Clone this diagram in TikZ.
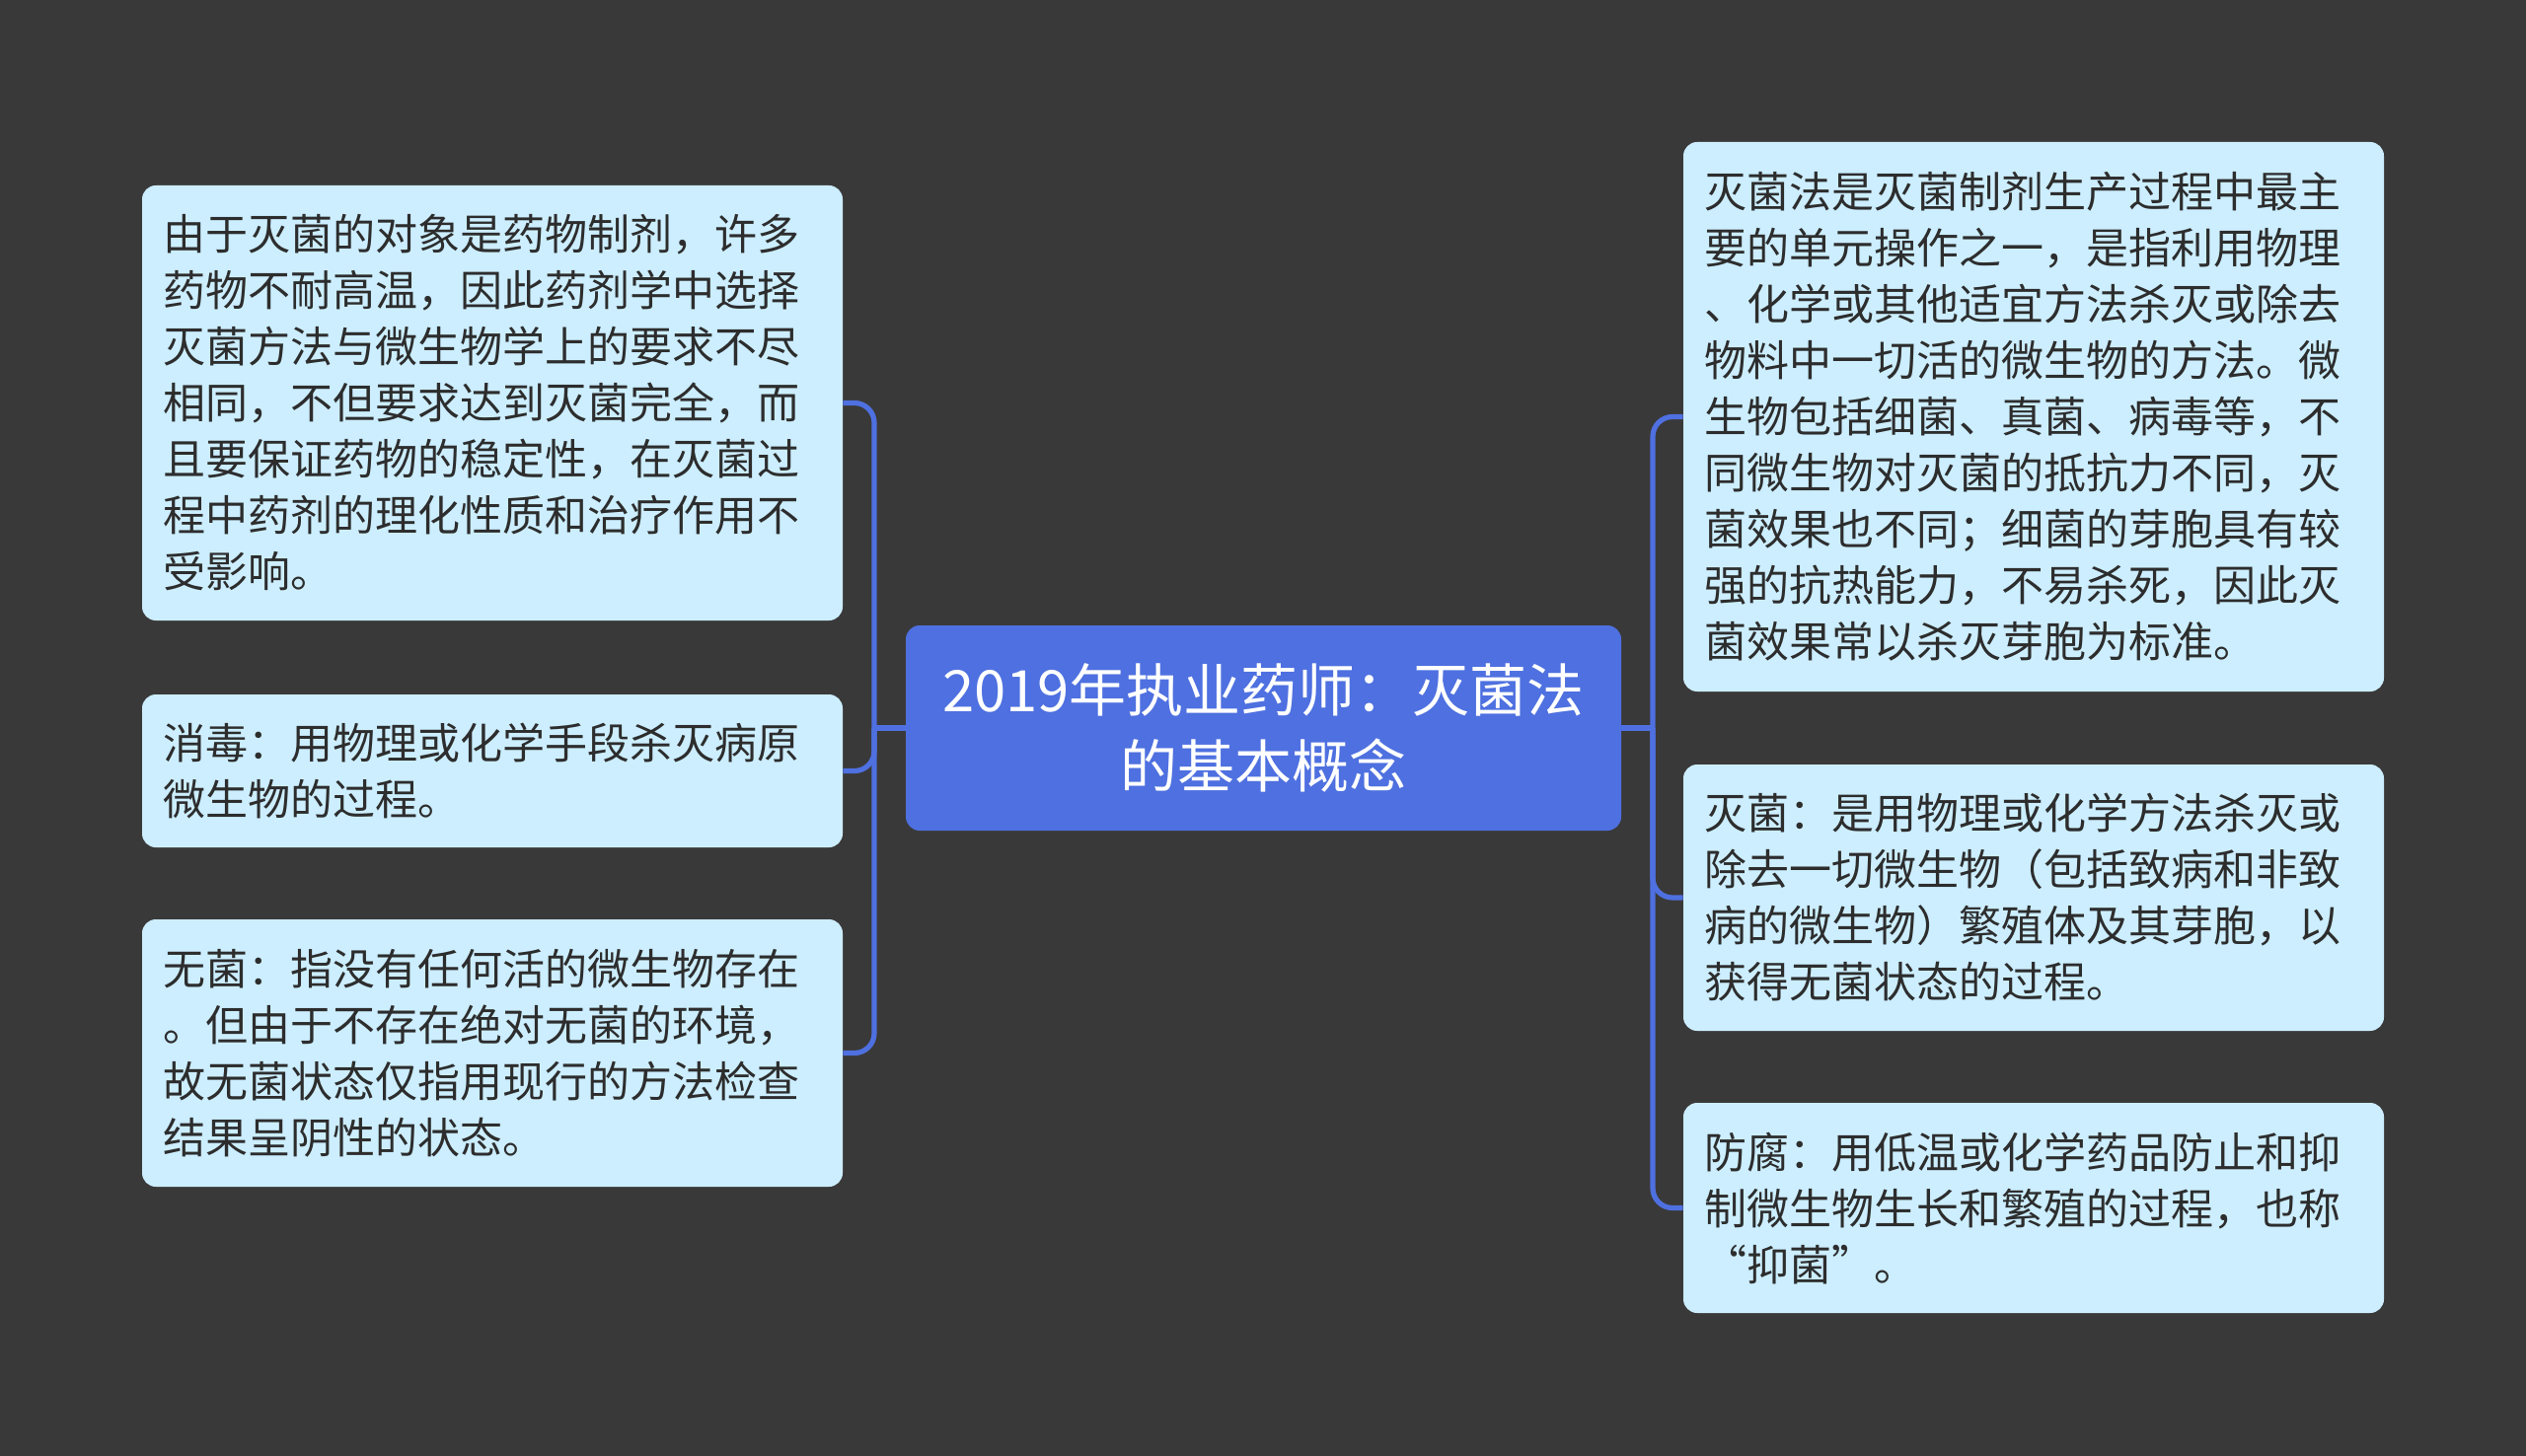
\documentclass[tikz,border=0pt]{standalone}
\usepackage{fontspec}
\newfontfamily\cjk{Noto Sans CJK SC}
\definecolor{bg}{RGB}{58,57,57}
\definecolor{boxfill}{RGB}{204,238,255}
\definecolor{mainblue}{RGB}{78,112,224}
\definecolor{txt}{RGB}{45,45,45}
\tikzset{
  leaf/.style={draw=none, fill=boxfill, rounded corners=7pt, text width=334pt, inner xsep=10.5pt, inner ysep=0pt, align=left, text=txt, font=\cjk\fontsize{21.5pt}{28.5pt}\selectfont},
  root/.style={draw=none, fill=mainblue, rounded corners=7pt, minimum width=362.5pt, minimum height=104pt, inner sep=0pt, align=center, text=white, font=\cjk\fontsize{29pt}{38.5pt}\selectfont},
  conn/.style={draw=mainblue, line width=2.6pt},
  branchline/.style={conn, rounded corners=10pt}
}
\begin{document}
\begin{tikzpicture}[x=0.5pt,y=-0.5pt]
\fill[bg] (0,0) rectangle (2560,1476);
\useasboundingbox (0,0) rectangle (2560,1476);

\node[root] (c) at (1280.5,738) {2019年执业药师：灭菌法\\的基本概念};

\node[leaf, minimum height=220.5pt] (l1) at (499,408.5) {由于灭菌的对象是药物制剂，许多\\药物不耐高温，因此药剂学中选择\\灭菌方法与微生物学上的要求不尽\\相同，不但要求达到灭菌完全，而\\且要保证药物的稳定性，在灭菌过\\程中药剂的理化性质和治疗作用不\\受影响。};
\node[leaf, minimum height=77.5pt] (l2) at (499,781.5) {消毒：用物理或化学手段杀灭病原\\微生物的过程。};
\node[leaf, minimum height=135.5pt] (l3) at (499,1067.5) {无菌：指没有任何活的微生物存在\\。但由于不存在绝对无菌的环境，\\故无菌状态仅指用现行的方法检查\\结果呈阴性的状态。};

\node[leaf, minimum height=278.5pt] (r1) at (2061,422.5) {灭菌法是灭菌制剂生产过程中最主\\要的单元操作之一，是指利用物理\\、化学或其他适宜方法杀灭或除去\\物料中一切活的微生物的方法。微\\生物包括细菌、真菌、病毒等，不\\同微生物对灭菌的抵抗力不同，灭\\菌效果也不同；细菌的芽胞具有较\\强的抗热能力，不易杀死，因此灭\\菌效果常以杀灭芽胞为标准。};
\node[leaf, minimum height=135pt] (r2) at (2061,910) {灭菌：是用物理或化学方法杀灭或\\除去一切微生物（包括致病和非致\\病的微生物）繁殖体及其芽胞，以\\获得无菌状态的过程。};
\node[leaf, minimum height=106.5pt] (r3) at (2061,1224.5) {防腐：用低温或化学药品防止和抑\\制微生物生长和繁殖的过程，也称\\{\addfontfeature{CharacterWidth=Full}“}抑菌{\addfontfeature{CharacterWidth=Full}”}。};

\coordinate (tl) at (886,738);
\coordinate (tr) at (1675,738);
\draw[conn] (c.west) -- (tl);
\draw[branchline] (tl) |- (l1.east);
\draw[branchline] (tl) |- (l2.east);
\draw[branchline] (tl) |- (l3.east);
\draw[conn] (c.east) -- (tr);
\draw[branchline] (tr) |- (r1.west);
\draw[branchline] (tr) |- (r2.west);
\draw[branchline] (tr) |- (r3.west);
\end{tikzpicture}
\end{document}
